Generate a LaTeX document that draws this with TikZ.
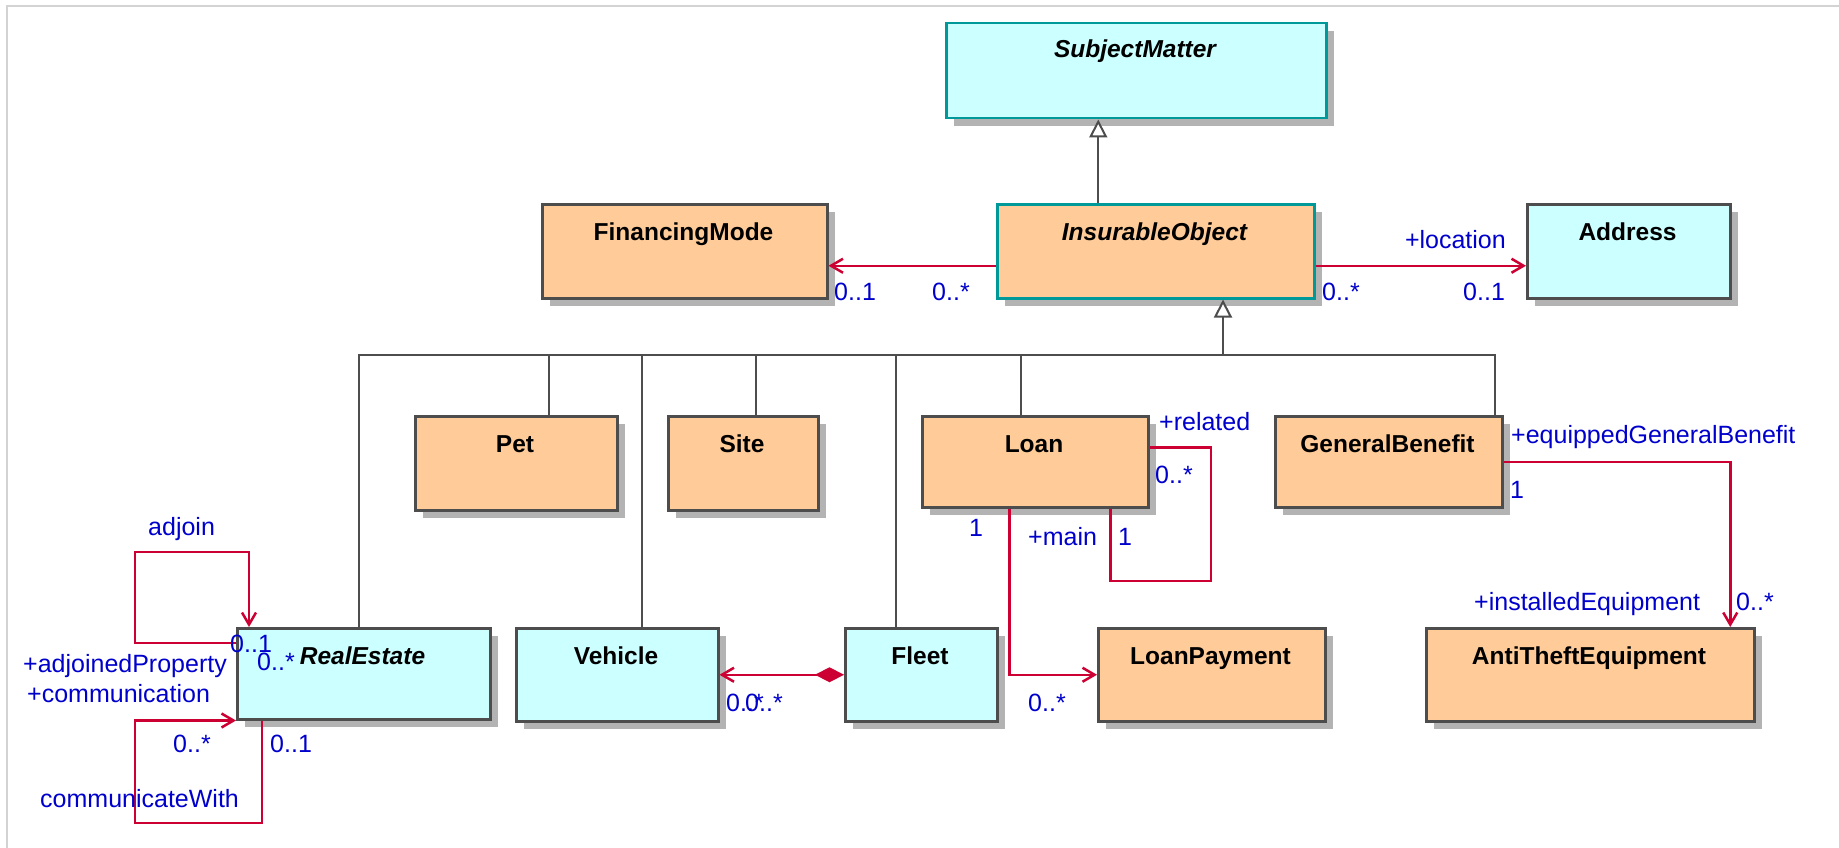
\documentclass[tikz,border=0pt]{standalone}
\usepackage{fontspec}
\setmainfont{Liberation Sans}
\usetikzlibrary{arrows.meta,shadows}
\definecolor{cyanfill}{HTML}{CCFFFF}
\definecolor{orngfill}{HTML}{FFCC99}
\definecolor{tealborder}{HTML}{009999}
\definecolor{boxgray}{HTML}{4D4D4D}
\definecolor{shadowgray}{HTML}{B3B3B3}
\definecolor{assocred}{HTML}{CC0033}
\definecolor{labelblue}{HTML}{0000CC}
\definecolor{framegray}{HTML}{D3D3D3}
\begin{document}
\begin{tikzpicture}[x=1pt,y=-1pt,
  cls/.style={draw=boxgray, line width=2.5pt, fill=orngfill, anchor=north west, inner sep=0pt,
    drop shadow={shadow xshift=8pt, shadow yshift=-8pt, fill=shadowgray, opacity=1}},
  cyancls/.style={cls, fill=cyanfill},
  tealcls/.style={draw=tealborder},
  clsname/.style={anchor=base, inner sep=0pt, font=\fontsize{24.5}{28}\selectfont\bfseries},
  absname/.style={clsname, font=\fontsize{24.5}{28}\selectfont\bfseries\itshape},
  rolelabel/.style={anchor=base west, inner sep=0pt, text=labelblue, font=\fontsize{25}{28}\selectfont},
  genline/.style={draw=boxgray, line width=2pt},
  genarrow/.style={genline, -{Triangle[length=18pt,width=18pt,fill=white]}},
  assocline/.style={draw=assocred, line width=2.5pt},
  assocarrow/.style={assocline, -{Straight Barb[length=12pt,width=14pt]}}
]
\useasboundingbox (0,0) rectangle (1839,848);
\fill[white] (0,0) rectangle (1839,848);
\draw[framegray, line width=1.5pt] (7,848) -- (7,6) -- (1839,6);

% classes
\node[cyancls, tealcls, minimum width=380pt, minimum height=95pt] (sm) at (945,22) {};
\node[absname] (smn) at (1135,58) {SubjectMatter};

\node[cls, minimum width=285pt, minimum height=94pt] (fm) at (541,203) {};
\node[clsname] (fmn) at (683.5,240) {FinancingMode};

\node[cls, tealcls, minimum width=317pt, minimum height=94pt] (io) at (996,203) {};
\node[absname] (ion) at (1154.5,240) {InsurableObject};

\node[cyancls, minimum width=203pt, minimum height=94pt] (addr) at (1526,203) {};
\node[clsname] (addrn) at (1627.5,240) {Address};

\node[cls, minimum width=202pt, minimum height=94pt] (pet) at (414,415) {};
\node[clsname] (petn) at (515,452) {Pet};

\node[cls, minimum width=150pt, minimum height=94pt] (site) at (667,415) {};
\node[clsname] (siten) at (742,452) {Site};

\node[cls, minimum width=226pt, minimum height=91pt] (loan) at (921,415) {};
\node[clsname] (loann) at (1034,452) {Loan};

\node[cls, minimum width=227pt, minimum height=91pt] (gb) at (1274,415) {};
\node[clsname] (gbn) at (1387.5,452) {GeneralBenefit};

\node[cyancls, minimum width=253pt, minimum height=91pt] (re) at (236,627) {};
\node[absname] (ren) at (362.5,664) {RealEstate};

\node[cyancls, minimum width=202pt, minimum height=93pt] (veh) at (515,627) {};
\node[clsname] (vehn) at (616,664) {Vehicle};

\node[cyancls, minimum width=152pt, minimum height=93pt] (fleet) at (844,627) {};
\node[clsname] (fleetn) at (920,664) {Fleet};

\node[cls, minimum width=227pt, minimum height=93pt] (lp) at (1097,627) {};
\node[clsname] (lpn) at (1210.5,664) {LoanPayment};

\node[cls, minimum width=328pt, minimum height=93pt] (ate) at (1425,627) {};
\node[clsname] (aten) at (1589,664) {AntiTheftEquipment};

% generalizations
\coordinate (g1) at ([xshift=-57.5pt]io.north);
\draw[genarrow] (g1) -- (g1 |- sm.south);
\coordinate (bus) at (1223,355);
\draw[genarrow] (bus) -- (bus |- io.south);
\draw[genline] ([xshift=-4.5pt]re.north) |- (bus);
\draw[genline] ([xshift=33pt]pet.north) |- (bus);
\draw[genline] ([xshift=25pt]veh.north) |- (bus);
\draw[genline] ([xshift=13pt]site.north) |- (bus);
\draw[genline] ([xshift=-25pt]fleet.north) |- (bus);
\draw[genline] ([xshift=-14pt]loan.north) |- (bus);
\draw[genline] ([xshift=106.5pt]gb.north) |- (bus);

% associations
\coordinate (iofm) at ([yshift=-14.5pt]io.west);
\draw[assocarrow] (iofm) -- (iofm -| fm.east);
\coordinate (ioad) at ([yshift=-14.5pt]io.east);
\draw[assocarrow] (ioad) -- (ioad -| addr.west);

\draw[assocline, {Diamond[length=29pt,width=15pt,fill=assocred]}-{Straight Barb[length=12pt,width=14pt]}] (fleet.west) -- (fleet.west -| veh.east);

\coordinate (lrs) at ([yshift=14.5pt]loan.east);
\coordinate (lre) at ([xshift=75pt]loan.south);
\draw[assocline] (lrs) -| (1211,581) -| (lre);

\coordinate (llp) at ([xshift=-26pt]loan.south);
\draw[assocarrow] (llp) |- (lp.west);

\coordinate (gbat) at ([xshift=140pt]ate.north);
\draw[assocarrow] (gb.east) -| (gbat);

\coordinate (adjS) at ([yshift=-16pt]re.north west);
\coordinate (adjE) at ([xshift=13pt]re.north west);
\draw[assocarrow] (adjS) -| (135,552) -| (adjE);

\coordinate (cwS) at ([xshift=26pt]re.south west);
\draw[assocarrow] (cwS) |- (135,823) |- (re.south west);

% labels
\node[rolelabel] (l1) at (834,300) {0..1};
\node[rolelabel] (l2) at (932,300) {0..*};
\node[rolelabel] (l3) at (1322,300) {0..*};
\node[rolelabel] (l4) at (1463,300) {0..1};
\node[rolelabel, anchor=base east] (l5) at (1506,248) {+location};

\node[rolelabel] (l6) at (1159,430) {+related};
\node[rolelabel] (l7) at (1155,483) {0..*};
\node[rolelabel] (l8) at (1118,545) {1};
\node[rolelabel] (l9) at (1028,545) {+main};
\node[rolelabel] (l10) at (969,536) {1};
\node[rolelabel] (l11) at (1028,711) {0..*};

\node[rolelabel] (l12) at (726,711) {0..*};
\node[rolelabel] (l13) at (745,711) {0..*};

\node[rolelabel] (l14) at (1511,443) {+equippedGeneralBenefit};
\node[rolelabel] (l15) at (1510,498) {1};
\node[rolelabel] (l16) at (1474,610) {+installedEquipment};
\node[rolelabel] (l17) at (1736,610) {0..*};

\node[rolelabel] (l18) at (148,535) {adjoin};
\node[rolelabel] (l19) at (230,652) {0..1};
\node[rolelabel] (l20) at (257,670) {0..*};
\node[rolelabel] (l21) at (23,672) {+adjoinedProperty};
\node[rolelabel] (l22) at (27,702) {+communication};
\node[rolelabel] (l23) at (173,752) {0..*};
\node[rolelabel] (l24) at (270,752) {0..1};
\node[rolelabel] (l25) at (40,807) {communicateWith};
\end{tikzpicture}
\end{document}
